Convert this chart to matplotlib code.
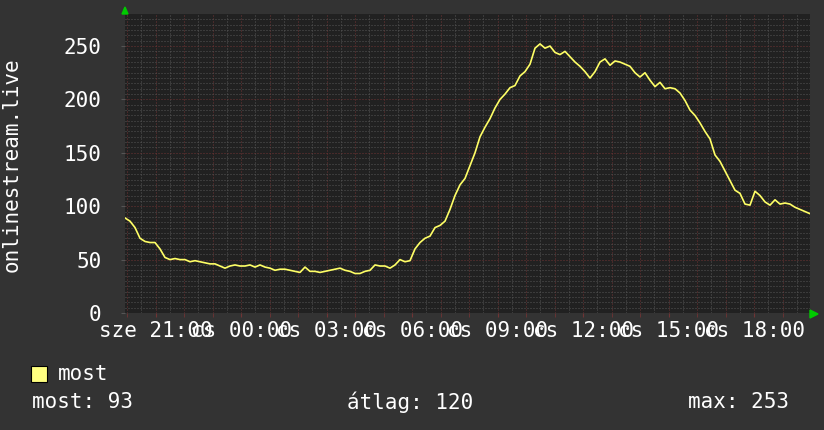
import numpy as np
import matplotlib
matplotlib.use("Agg")
import matplotlib.pyplot as plt

# listeners, one sample every ~10.5 minutes over the last 24 hours
most = [89, 86, 80, 70, 67, 66, 66, 60, 52, 50, 51, 50, 50, 48, 49, 48, 47, 46, 46, 44,
        42, 44, 45, 44, 44, 45, 43, 45, 43, 42, 40, 41, 41, 40, 39, 38, 43, 39, 39, 38,
        39, 40, 41, 42, 40, 39, 37, 37, 39, 40, 45, 44, 44, 42, 45, 50, 48, 49, 60, 66,
        70, 72, 80, 82, 86, 97, 110, 120, 126, 138, 150, 165, 174, 182, 192, 200, 205, 211, 213, 222,
        226, 233, 248, 252, 248, 250, 244, 242, 245, 240, 235, 231, 226, 220, 226, 235, 238, 232, 236, 235,
        233, 231, 225, 221, 225, 218, 212, 216, 210, 211, 210, 206, 199, 190, 185, 178, 170, 163, 148, 142,
        133, 124, 115, 112, 102, 101, 114, 110, 104, 101, 106, 102, 103, 102, 99, 97, 95, 93]

# hours after 20:00 of the previous day
t_start, t_end = -0.07, 23.96
tick_hours = [1, 4, 7, 10, 13, 16, 19, 22]
tick_labels = ["sze 21:00", "cs 00:00", "cs 03:00", "cs 06:00",
               "cs 09:00", "cs 12:00", "cs 15:00", "cs 18:00"]
y_ticks = [0, 50, 100, 150, 200, 250]

BACK = "#333333"
CANVAS = "#212121"
GRID = "#555555"
MGRID = "#703434"
LINE = "#ffff66"
FONT = "DejaVu Sans Mono"
FS = 15

plt.rcParams["font.family"] = FONT

fig = plt.figure(figsize=(8.24, 4.30), dpi=100, facecolor=BACK)
W, H = 824, 430
ax = fig.add_axes([125 / W, (H - 313) / H, (810 - 125) / W, (313 - 14) / H])
ax.set_facecolor(CANVAS)

t = np.linspace(t_start, t_end, len(most))
ax.set_xlim(t_start, t_end)
ax.set_ylim(0, 280)

# grid
dots = (0, (1, 2))
for h in np.arange(0, 24, 0.5):
    major = float(h).is_integer()
    ax.axvline(h, color=MGRID if major else GRID, lw=0.72, linestyle=dots, zorder=1)
for v in range(5, 280, 5):
    major = v % 50 == 0
    ax.axhline(v, color=MGRID if major else GRID, lw=0.72, linestyle=dots, zorder=1)

ax.plot(t, most, color=LINE, lw=1.2, zorder=3)

for s in ax.spines.values():
    s.set_visible(False)

ax.set_xticks(tick_hours)
ax.set_xticklabels(tick_labels, fontsize=FS, color="white", family=FONT)
ax.set_xticks(np.arange(0, 24, 1), minor=True)
ax.tick_params(axis="x", which="major", length=3, color=MGRID, pad=3)
ax.tick_params(axis="x", which="minor", length=3, color=MGRID)
ax.set_yticks(y_ticks)
ax.set_yticklabels([str(v) for v in y_ticks], fontsize=FS, color="white", family=FONT)
ax.tick_params(axis="y", length=3, color=GRID, pad=14)

fig.text(12 / W, (H - 165) / H, "onlinestream.live", fontsize=FS, color="white",
         rotation=90, ha="center", va="center")

# axis arrows
fig.patches.append(plt.Polygon([[122 / W, (H - 14) / H], [128 / W, (H - 14) / H], [125 / W, (H - 7) / H]],
                               closed=True, color="#00cc00", transform=fig.transFigure))
fig.patches.append(plt.Polygon([[810 / W, (H - 310) / H], [810 / W, (H - 318) / H], [818 / W, (H - 314) / H]],
                               closed=True, color="#00cc00", transform=fig.transFigure))

# legend
fig.patches.append(plt.Rectangle((31 / W, (H - 382) / H), 16 / W, 16 / H, facecolor="#ffff80",
                                 edgecolor="black", lw=0.8, transform=fig.transFigure))
fig.text(58 / W, (H - 374) / H, "most", fontsize=FS, color="white", va="center")
fig.text(32 / W, (H - 402) / H, "most: %d" % most[-1], fontsize=FS, color="white", va="center")
fig.text(347 / W, (H - 402) / H, "átlag: 120", fontsize=FS, color="white", va="center")
fig.text(688 / W, (H - 402) / H, "max: 253", fontsize=FS, color="white", va="center")

fig.savefig("out.png", dpi=100, facecolor=BACK)
